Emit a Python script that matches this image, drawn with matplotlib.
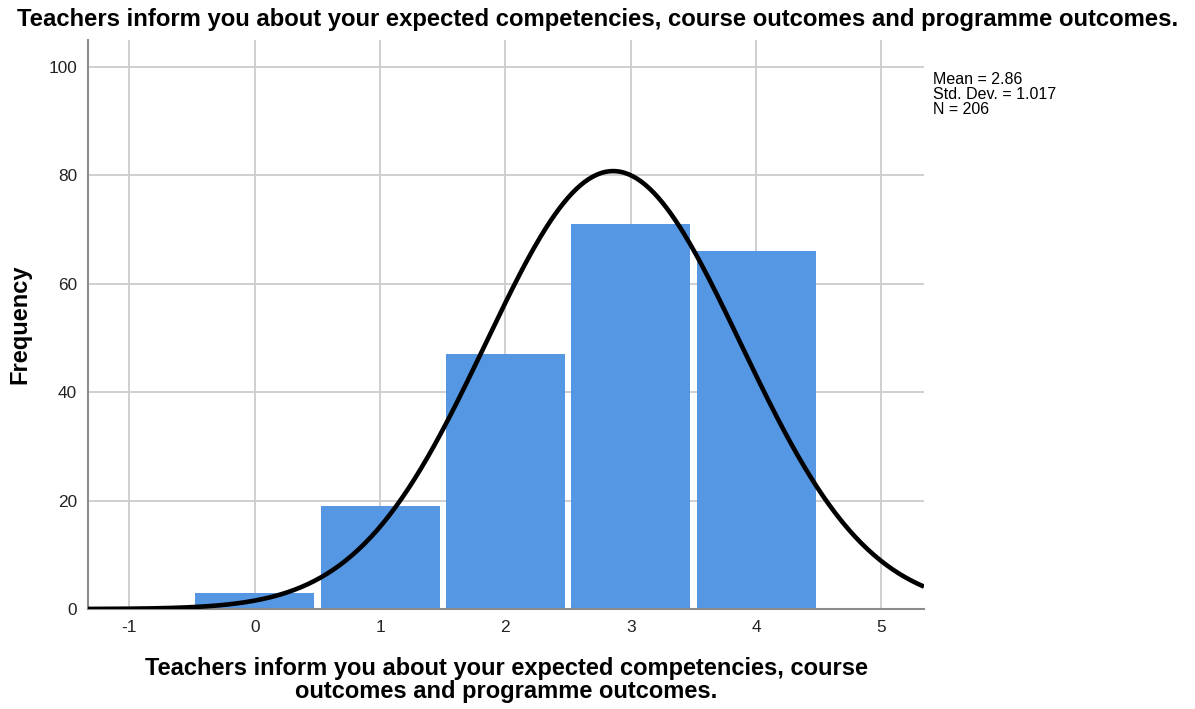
import numpy as np
import matplotlib
matplotlib.use("Agg")
import matplotlib.pyplot as plt

plt.rcParams["font.family"] = ["Liberation Sans", "DejaVu Sans"]
plt.rcParams["axes.unicode_minus"] = False

# data
values = [0, 1, 2, 3, 4]
counts = [3, 19, 47, 71, 66]
mean, sd, n = 2.86, 1.017, 206
title = "Teachers inform you about your expected competencies, course outcomes and programme outcomes."
xlabel = "Teachers inform you about your expected competencies, course\noutcomes and programme outcomes."

W, H = 1195, 709
fig = plt.figure(figsize=(W / 100, H / 100), dpi=100)
ax = fig.add_axes([88 / W, 1 - 609 / H, (924 - 88) / W, (609 - 40) / H])

xmin, xmax = -1.33, 5.34
ax.set_xlim(xmin, xmax)
ax.set_ylim(0, 105)

ax.bar(values, counts, width=0.95, color="#5597e3", edgecolor="none", zorder=2)

xs = np.linspace(xmin, xmax, 400)
ys = n * 1.0 / (sd * np.sqrt(2 * np.pi)) * np.exp(-0.5 * ((xs - mean) / sd) ** 2)
ax.plot(xs, ys, color="black", lw=3.3, zorder=3, solid_capstyle="butt")

ax.set_xticks(range(-1, 6))
ax.set_yticks(range(0, 101, 20))
ax.grid(True, color="#cccccc", lw=1.3, zorder=0)
ax.set_axisbelow(True)
for s in ("top", "right"):
    ax.spines[s].set_visible(False)
for s in ("left", "bottom"):
    ax.spines[s].set_color("#8c8c8c")
    ax.spines[s].set_linewidth(1.5)
ax.tick_params(length=0, labelsize=12.4, pad=8, colors="#222222")
ax.tick_params(axis="y", pad=8)

ax.set_ylabel("Frequency", fontsize=17, fontweight="bold", labelpad=12)
ax.set_xlabel(xlabel, fontsize=17, fontweight="bold", labelpad=16, linespacing=0.98)
fig.suptitle(title, fontsize=17.2, fontweight="bold", x=0.5, y=1 - 8 / H, va="top")

fig.text(933 / W, 1 - 72 / H, f"Mean = {mean}\nStd. Dev. = {sd}\nN = {n}",
         fontsize=11.5, va="top", ha="left", linespacing=1.02)

fig.savefig("out.png", dpi=100)
